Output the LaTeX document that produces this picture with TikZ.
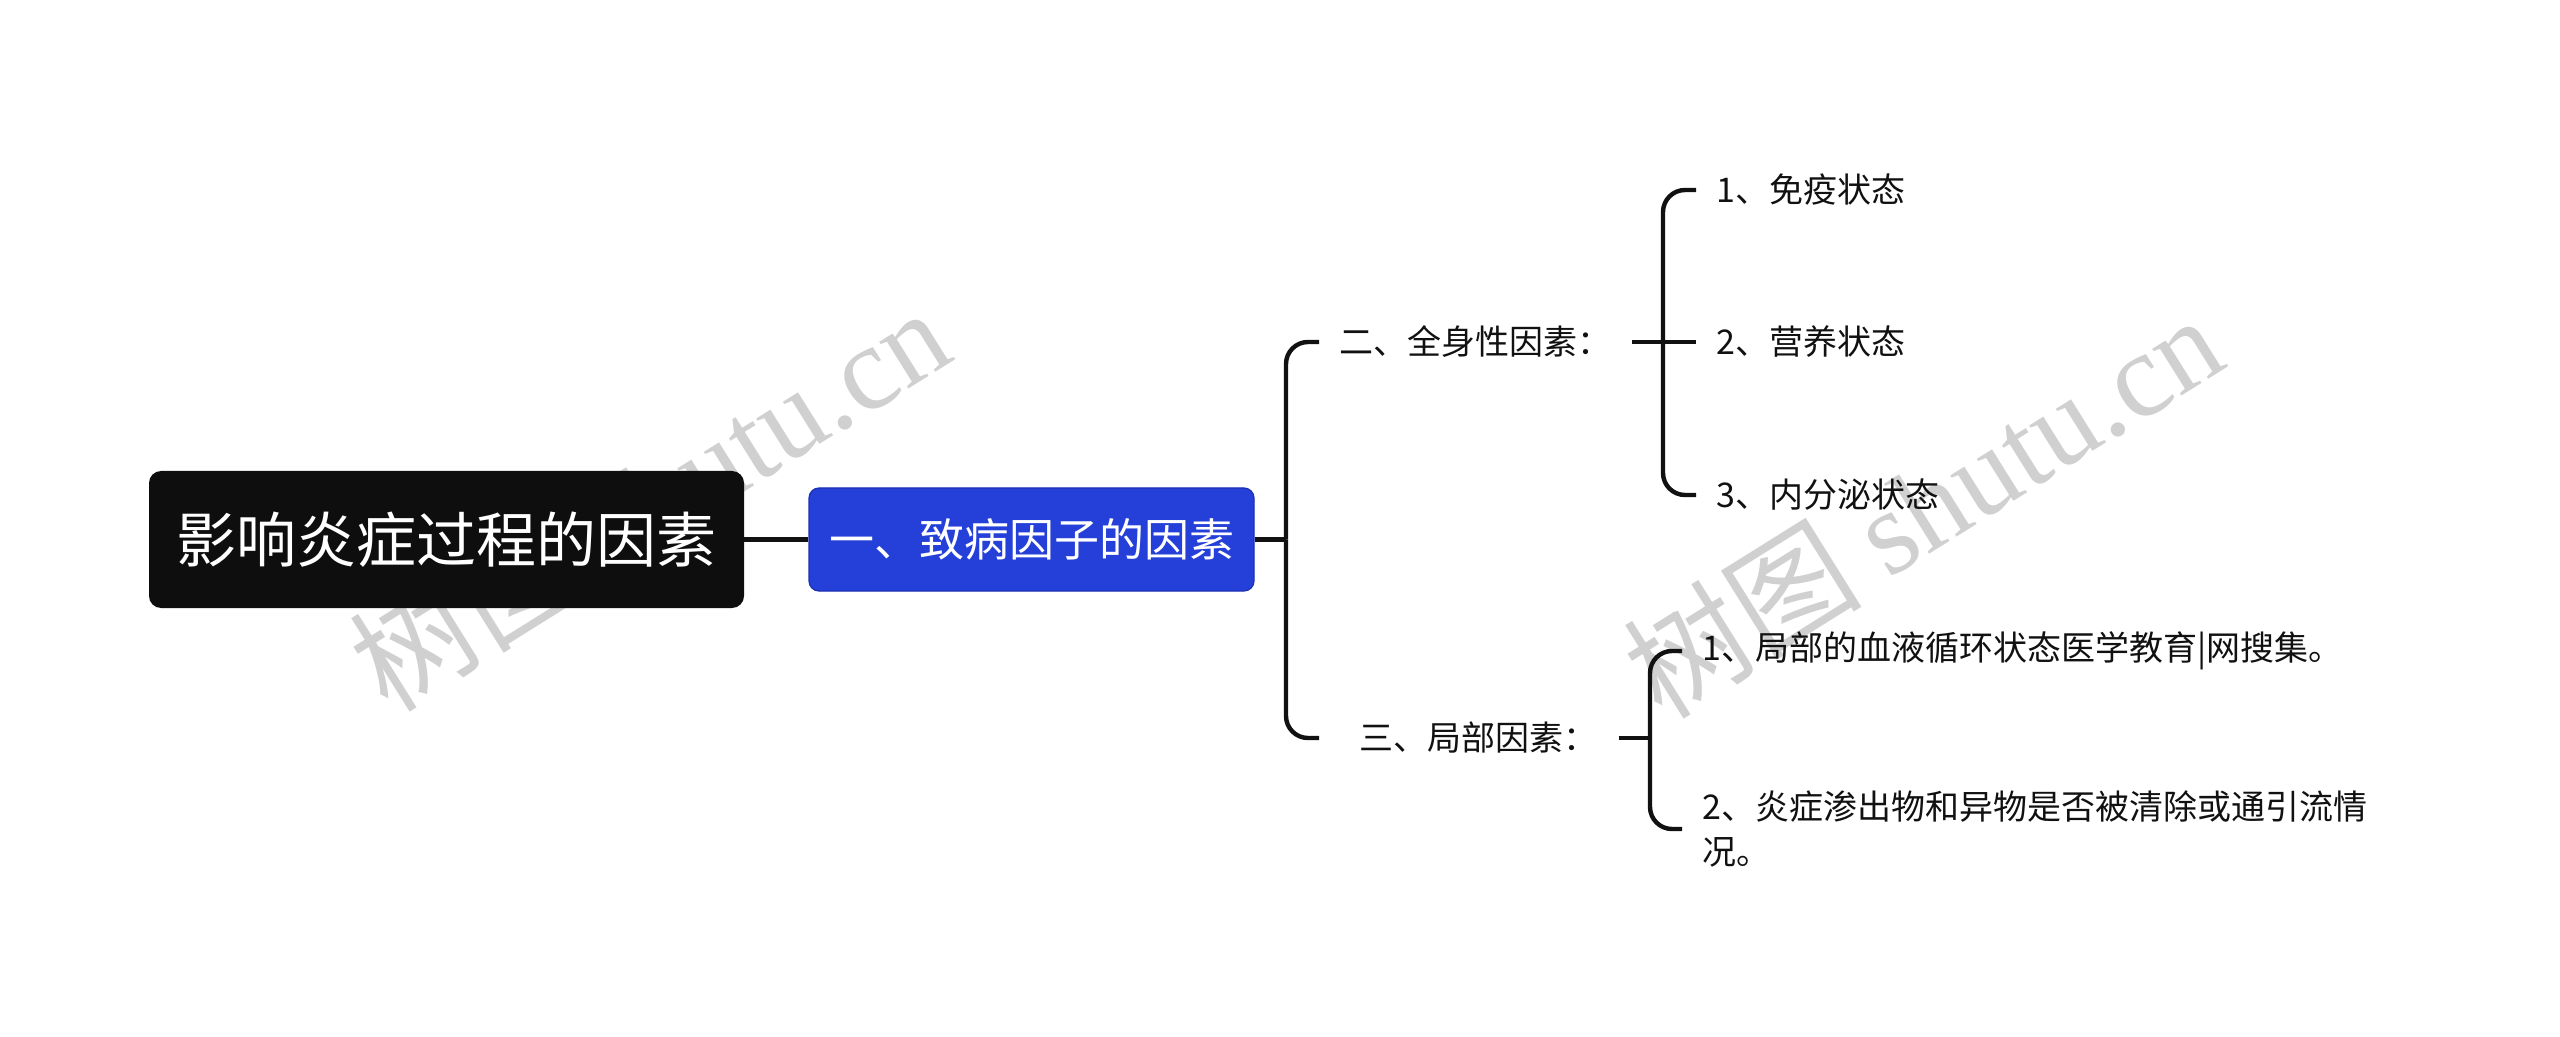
\documentclass[tikz,border=0pt]{standalone}
\usepackage{fontspec}
\setmainfont{Noto Sans CJK SC}
\newfontfamily\wmserif{Liberation Serif}
\definecolor{rootblack}{HTML}{0E0E0E}
\definecolor{mainblue}{RGB}{37,64,217}
\definecolor{mainedge}{RGB}{28,48,180}
\definecolor{ink}{HTML}{111111}
\definecolor{wmgray}{RGB}{208,208,208}
\begin{document}
\begin{tikzpicture}[x=0.5pt,y=-0.5pt,
  rootbox/.style={rectangle, rounded corners=6pt, fill=rootblack, text=white,
    font=\fontsize{30pt}{36pt}\selectfont, minimum width=297.5pt, minimum height=68.5pt, inner sep=0pt},
  mainbox/.style={rectangle, rounded corners=5pt, fill=mainblue, draw=mainedge, line width=0.6pt, text=white,
    font=\fontsize{22.5pt}{27pt}\selectfont, minimum width=222.5pt, minimum height=51.5pt, inner sep=0pt},
  subnode/.style={anchor=west, text=ink, font=\fontsize{17pt}{22.5pt}\selectfont, inner xsep=10pt, inner ysep=3pt},
  leaf/.style={anchor=west, text=ink, font=\fontsize{17pt}{22.5pt}\selectfont, inner xsep=10pt, inner ysep=3pt},
  conn/.style={draw=ink, line width=2.2pt},
  elbow/.style={conn, rounded corners=11pt},
  wm/.style={text=wmgray, font=\fontsize{60pt}{68pt}\selectfont, inner sep=0pt}
]
\path[use as bounding box] (0,0) rectangle (2560,1037);

% watermarks (behind)
\node[wm, rotate=32] (wm1) at (649,498) {树图 {\wmserif shutu.cn}};
\node[wm, rotate=32] (wm2) at (1922,505) {树图 {\wmserif shutu.cn}};

% nodes
\node[rootbox] (root) at (446.5,539.5) {影响炎症过程的因素};
\node[mainbox] (m1) at (1031.5,539.5) {一、致病因子的因素};
\node[subnode] (n2) at (1319,342) {二、全身性因素：};
\node[subnode, text width=128.5pt, align=right, inner xsep=10.5pt] (n3) at (1319,738) {三、局部因素：};
\node[leaf] (l11) at (1696,190) {1、免疫状态};
\node[leaf] (l12) at (1696,342) {2、营养状态};
\node[leaf] (l13) at (1696,495) {3、内分泌状态};
\node[leaf] (l21) at (1682,651) {1、局部的血液循环状态医学教育|网搜集。};
\node[leaf, align=left] (l22) at (1682,829) {2、炎症渗出物和异物是否被清除或通引流情\\况。};

% junctions
\coordinate (j1) at (1286,539.5);
\coordinate (j2) at (1663,342);
\coordinate (j3) at (1650,738);

% connectors
\draw[conn] (root.east) -- (m1.west);
\draw[conn] (m1.east) -- (j1);
\draw[elbow] (j1) |- (n2.west);
\draw[elbow] (j1) |- (n3.west);
\draw[conn] (n2.east) -- (j2);
\draw[elbow] (j2) |- (l11.west);
\draw[conn] (j2) -- (l12.west);
\draw[elbow] (j2) |- (l13.west);
\draw[conn] (n3.east) -- (j3);
\draw[elbow] (j3) |- (l21.west);
\draw[elbow] (j3) |- (l22.west);
\end{tikzpicture}
\end{document}
